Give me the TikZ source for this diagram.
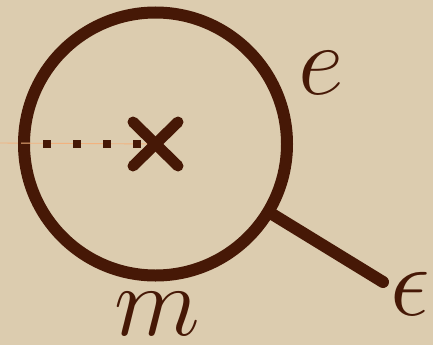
\documentclass[tikz,border=0pt]{standalone}
\usetikzlibrary{calc}
\definecolor{bg}{HTML}{DCCCAF}
\definecolor{ink}{HTML}{461806}
\definecolor{faint}{HTML}{F2B27E}
\tikzset{
  stroke/.style={draw=ink, line width=12pt},
  crossline/.style={draw=ink, line width=11pt, line cap=round},
  dotline/.style={draw=ink, line width=8pt, dash pattern=on 8pt off 22pt, dash phase=5pt},
  lbl/.style={text=ink, inner sep=0pt, font=\Huge, scale=4.02}
}
\begin{document}
\begin{tikzpicture}[x=1pt,y=-1pt]
\fill[bg] (0,0) rectangle (433,345);
\useasboundingbox (0,0) rectangle (433,345);
\coordinate (c) at (155.5,144);
\coordinate (edge) at (0,143);
\node[circle, stroke, minimum size=263pt, inner sep=0pt] (ring) at (c) {};
\coordinate (end) at (383,282);
\draw[faint, line width=0.9pt] (edge) -- (c);
\draw[dotline] (ring.west) -- (c);
\draw[crossline] ($(c)+(-22.5,-22)$) -- ($(c)+(22.5,22)$);
\draw[crossline] ($(c)+(-22.5,22)$) -- ($(c)+(22.5,-22)$);
\draw[stroke, line cap=round] (ring.-31) -- (end);
\node[lbl] (e) at (321,73) {$e$};
\node[lbl] (m) at (157,314) {$m$};
\node[lbl] (eps) at (410,294) {$\epsilon$};
\end{tikzpicture}
\end{document}
